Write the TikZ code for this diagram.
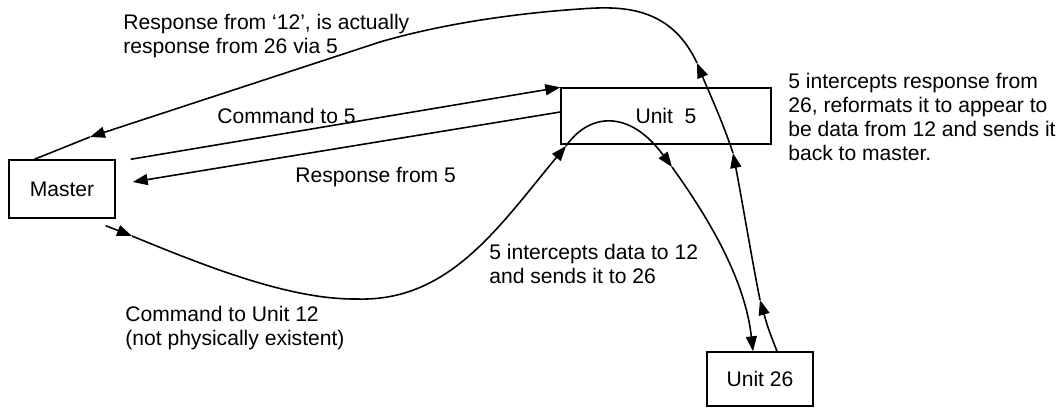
\documentclass[tikz,border=0pt]{standalone}
\usepackage{fontspec}
\setmainfont{Liberation Sans}
\usetikzlibrary{arrows.meta}

\begin{document}
\begin{tikzpicture}[
        box/.style={rectangle, draw, line width=0.8pt, inner sep=0pt, text centered, font=\fontsize{12}{13.7}\selectfont},
        flow/.style={->, >={Triangle[length=0.3cm, width=0.22cm]}, line width=0.9pt},
        note/.style={anchor=north west, inner sep=0pt, align=left, font=\fontsize{12}{13.7}\selectfont}
    ]
    \useasboundingbox (0,0) rectangle (21.26,8.2);

    % Units
    \node[box, minimum width=2.12cm, minimum height=1.16cm] (master) at (1.24, 4.42) {Master};
    \node[box, minimum width=4.2cm, minimum height=1.12cm] (unit5) at (13.32, 5.88) {Unit\ \ 5};
    \node[box, minimum width=2.12cm, minimum height=1.08cm] (unit26) at (15.2, 0.62) {Unit 26};

    % Master <-> Unit 5
    \draw[flow] ([xshift=0.3cm]master.north east) -- (unit5.north west);
    \draw[flow] ([yshift=0.08cm]unit5.west) -- ([xshift=0.34cm, yshift=0.14cm]master.east);

    % Command to 12, taken by 5 and passed to 26
    \coordinate (cmd1) at (2.64, 3.48);
    \coordinate (cmd2) at (11.32, 5.28);
    \coordinate (cmd3) at (13.44, 4.86);
    \draw[flow] ([xshift=-0.2cm, yshift=-0.14cm]master.south east) -- (cmd1);
    \draw[flow] (cmd1) .. controls (4.10, 2.88) and (5.80, 2.20) .. (7.14, 2.22)
        .. controls (9.00, 2.16) and (10.00, 3.70) .. (cmd2);
    \draw[flow] (cmd2) .. controls (11.80, 5.96) and (12.60, 6.00) .. (cmd3);
    \draw[flow] (cmd3) .. controls (14.20, 3.80) and (14.90, 2.60) .. ([xshift=-0.14cm]unit26.north);

    % Response from 26, sent on by 5 as if from 12
    \coordinate (resp1) at (15.20, 2.20);
    \coordinate (resp2) at (14.66, 5.14);
    \coordinate (resp3) at (13.94, 6.94);
    \coordinate (resp4) at (1.80, 5.46);
    \draw[flow] ([xshift=0.34cm]unit26.north) .. controls (15.36, 1.64) .. (resp1);
    \draw[flow] (resp1) .. controls (15.04, 3.00) and (14.84, 4.20) .. (resp2);
    \draw[flow] (resp2) .. controls (14.44, 5.80) and (14.16, 6.40) .. (resp3);
    \draw[flow] (resp3) .. controls (13.40, 8.10) and (12.40, 8.08) .. (11.60, 8.02)
        .. controls (10.40, 7.94) and (8.90, 7.74) .. (7.60, 7.36) -- (resp4);
    \draw[line width=0.9pt] (resp4) -- ([xshift=0.52cm]master.north west);

    % Labels
    \node[note] (respnote) at (2.46, 7.92) {Response from ‘12’, is actually\\response from 26 via 5};
    \node[note] (cmd5note) at (4.34, 6.04) {Command to 5};
    \node[note] (resp5note) at (5.90, 4.86) {Response from 5};
    \node[note] (cmd12note) at (2.50, 2.08) {Command to Unit 12\\(not physically existent)};
    \node[note] (passnote) at (9.78, 3.32) {5 intercepts data to 12\\and sends it to 26};
    \node[note] (backnote) at (15.76, 6.74) {5 intercepts response from\\26, reformats it to appear to\\be data from 12 and sends it\\back to master.};

\end{tikzpicture}
\end{document}
